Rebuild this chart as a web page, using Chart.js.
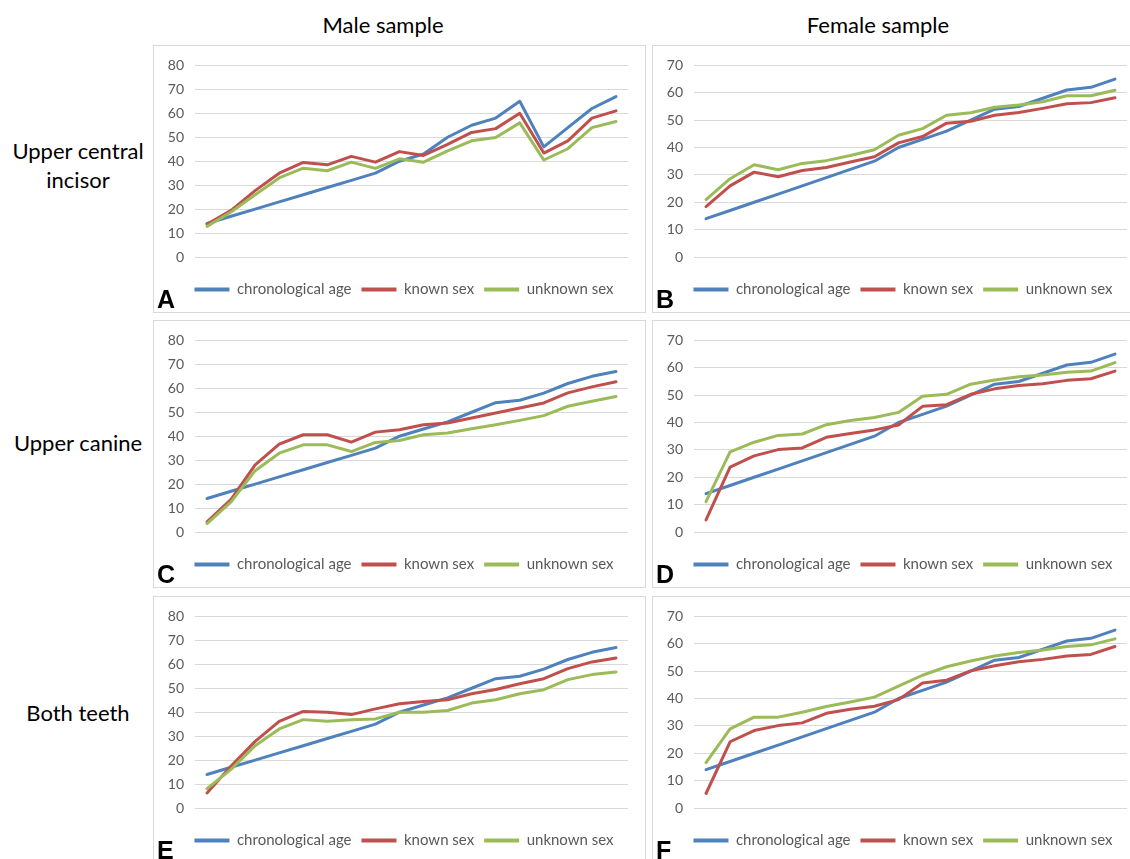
<!DOCTYPE html>
<html><head><meta charset="utf-8">
<script src="https://cdn.jsdelivr.net/npm/chart.js@4"></script>
<style>
html,body{margin:0;padding:0;background:#fff;width:1130px;height:859px;overflow:hidden;font-family:Lato,sans-serif;}
.panel{position:absolute;border:1px solid #d9d9d9;box-sizing:border-box;width:493px;height:268px;background:#fff;}
.panel canvas{position:absolute;left:0;top:0;}
.hdr{position:absolute;font-size:22px;line-height:22px;color:#000;text-align:center;width:300px;white-space:nowrap;}
.row{position:absolute;font-size:22px;line-height:29px;text-align:center;width:156px;left:0;color:#000;}
.let{position:absolute;font-family:"Liberation Sans",Arial,sans-serif;font-weight:bold;font-size:25px;line-height:25px;color:#000;}
</style></head>
<body>
<div class="hdr" style="left:233px;top:14px;">Male sample</div>
<div class="hdr" style="left:728px;top:14px;">Female sample</div>
<div class="row" style="top:136px;">Upper central<br>incisor</div>
<div class="row" style="top:428px;">Upper canine</div>
<div class="row" style="top:698px;">Both teeth</div>

<div class="panel" style="left:153px;top:45px;"><canvas id="cA" width="491" height="266"></canvas><div class="let" style="left:3px;top:241px;">A</div></div>
<div class="panel" style="left:652px;top:45px;"><canvas id="cB" width="491" height="266"></canvas><div class="let" style="left:3px;top:241px;">B</div></div>
<div class="panel" style="left:153px;top:320px;"><canvas id="cC" width="491" height="266"></canvas><div class="let" style="left:3px;top:241px;">C</div></div>
<div class="panel" style="left:652px;top:320px;"><canvas id="cD" width="491" height="266"></canvas><div class="let" style="left:3px;top:241px;">D</div></div>
<div class="panel" style="left:153px;top:596px;"><canvas id="cE" width="491" height="266"></canvas><div class="let" style="left:3px;top:241px;">E</div></div>
<div class="panel" style="left:652px;top:596px;"><canvas id="cF" width="491" height="266"></canvas><div class="let" style="left:3px;top:241px;">F</div></div>

<script>
// categories (individuals ordered by age group), no tick labels shown
const categories = ['1','2','3','4','5','6','7','8','9','10','11','12','13','14','15','16','17','18'];
const seriesNames = ['chronological age','known sex','unknown sex'];
const maleTicksMax = 80;
const femaleTicksMax = 70;

// A: upper central incisor, male
const ageA = [14,17,20,23,26,29,32,35,40,43,50,55,58,65,46,54,62,67];
const knownA = [13.7,19.5,27.7,35,39.5,38.5,42,39.6,44,42.4,47,52,53.6,60,43.4,48.5,58,61];
const unknownA = [12.8,18.8,26,33,37.1,36,39.6,37,41,39.6,44.3,48.5,49.9,56,40.5,45.2,54,56.6];
// B: upper central incisor, female
const ageB = [14,17,20,23,26,29,32,35,40,43,46,50,54,55,58,61,62,65];
const knownB = [18.4,26,31,29.3,31.6,32.7,34.7,36.6,41.7,44,48.9,49.6,51.8,52.8,54.3,56,56.4,58.2];
const unknownB = [21,28.6,33.7,31.9,34.2,35.2,37.1,39.2,44.5,46.9,51.8,52.7,54.7,55.5,56.7,58.9,58.9,60.9];
// C: upper canine, male
const ageC = [14,17,20,23,26,29,32,35,40,43,46,50,54,55,58,62,65,67];
const knownC = [4.2,13.6,28,36.7,40.6,40.6,37.5,41.7,42.7,44.8,45.5,47.6,49.7,51.8,53.9,58.1,60.6,62.7];
const unknownC = [3.5,12.6,25.6,32.9,36.4,36.4,33.6,37.4,38.2,40.6,41.3,43.1,44.8,46.6,48.6,52.5,54.6,56.6];
// D: upper canine, female
const ageD = [14,17,20,23,26,29,32,35,40,43,46,50,54,55,58,61,62,65];
const knownD = [4.4,23.7,27.8,30.1,30.7,34.6,36,37.3,39.1,45.9,46.5,50.3,52.3,53.5,54.2,55.4,56,58.8];
const unknownD = [11.1,29.3,32.8,35.3,35.8,39.2,40.7,41.8,43.7,49.6,50.3,54,55.5,56.7,57.4,58.4,58.8,61.9];
// E: both teeth, male
const ageE = [14,17,20,23,26,29,32,35,40,43,46,50,54,55,58,62,65,67];
const knownE = [6.3,17.5,27.8,36.2,40.3,40,39,41.4,43.5,44.5,45.2,47.7,49.5,51.9,54,58.2,61,62.6];
const unknownE = [8.1,16.1,26,33,36.9,36.2,36.8,37.2,40,40,40.7,43.8,45.2,47.7,49.4,53.6,55.7,56.8];
// F: both teeth, female
const ageF = [14,17,20,23,26,29,32,35,40,43,46,50,54,55,58,61,62,65];
const knownF = [5.3,24.2,28.3,30.1,31.1,34.6,36.1,37.2,39.6,45.7,46.7,50.1,52,53.4,54.3,55.5,56.1,59];
const unknownF = [16.6,28.9,33.2,33.2,35,37.1,38.7,40.5,44.5,48.5,51.6,53.7,55.5,56.8,57.7,59,59.6,61.8];

const colors = ['#4F81BD','#C0504D','#9BBB59'];

Chart.defaults.font.family = 'Lato, sans-serif';

// nudge the legend row so it sits centred under the plot like the reference
const shiftLegend = {
  id:'shiftLegend',
  afterLayout(chart){
    const lg = chart.legend;
    if (lg) { lg.left += 13; lg.right += 13; }
  }
};

function makeChart(id, age, known, unknown, yMax){
  const series = [age, known, unknown];
  new Chart(document.getElementById(id), {
    type:'line',
    data:{
      labels:categories,
      datasets: series.map((d,i)=>({
        label: seriesNames[i], data:d, borderColor:colors[i], backgroundColor:colors[i],
        order: 3-i, fill:false
      }))
    },
    options:{
      responsive:false, animation:false, devicePixelRatio:1,
      layout:{padding:{left:0,right:17,top:18,bottom:5}},
      plugins:{
        legend:{position:'bottom', labels:{
          boxWidth:35, boxHeight:4, padding:10, color:'#595959', font:{size:15},
          sort:(a,b)=>a.datasetIndex-b.datasetIndex,
          generateLabels:(chart)=>Chart.defaults.plugins.legend.labels.generateLabels(chart).map(l=>Object.assign(l,{lineWidth:0}))
        }},
        tooltip:{enabled:false}
      },
      scales:{
        x:{offset:true, grid:{display:false, drawTicks:false}, border:{display:false}, ticks:{display:false}, afterFit:(s)=>{s.height=15;}},
        y:{min:0, max:yMax, ticks:{stepSize:10, color:'#595959', font:{size:14}, padding:11},
           grid:{color:'#d9d9d9', drawTicks:false, lineWidth:1}, border:{display:false}, afterFit:(s)=>{s.width=41;}}
      },
      elements:{line:{tension:0, borderWidth:3, borderCapStyle:'round', borderJoinStyle:'round'}, point:{radius:0, hoverRadius:0}}
    },
    plugins:[shiftLegend]
  });
}
makeChart('cA', ageA, knownA, unknownA, maleTicksMax);
makeChart('cB', ageB, knownB, unknownB, femaleTicksMax);
makeChart('cC', ageC, knownC, unknownC, maleTicksMax);
makeChart('cD', ageD, knownD, unknownD, femaleTicksMax);
makeChart('cE', ageE, knownE, unknownE, maleTicksMax);
makeChart('cF', ageF, knownF, unknownF, femaleTicksMax);
</script>
</body></html>
